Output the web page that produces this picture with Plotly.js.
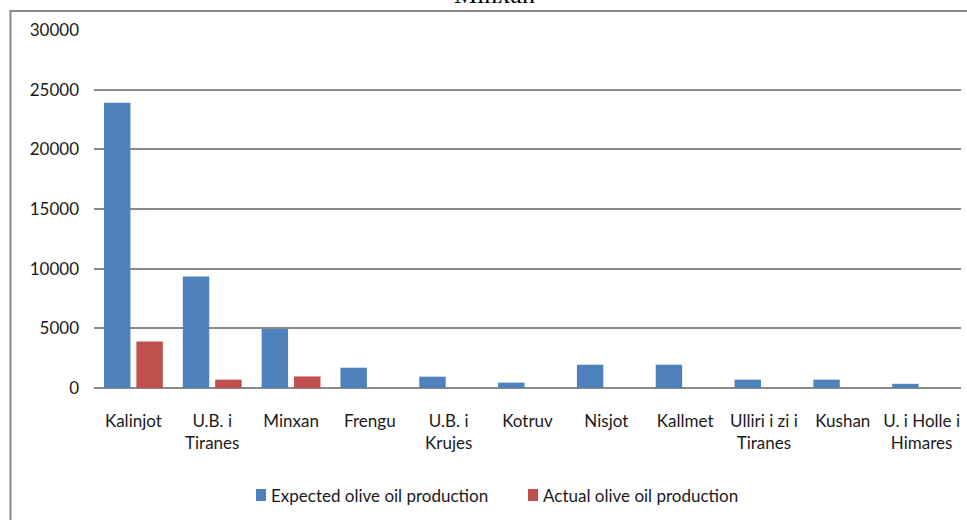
<!DOCTYPE html>
<html>
<head>
<meta charset="utf-8">
<script src="https://cdn.plot.ly/plotly-3.0.1.min.js"></script>
<style>
  html, body { margin: 0; padding: 0; background: #ffffff; }
  #chart { width: 967px; height: 520px; }
</style>
</head>
<body>
<div id="chart"></div>
<script>
const categories = [
  "Kalinjot", "U.B. i<br>Tiranes", "Minxan", "Frengu", "U.B. i<br>Krujes",
  "Kotruv", "Nisjot", "Kallmet", "Ulliri i zi i<br>Tiranes", "Kushan", "U. i Holle i<br>Himares"
];
const expectedProduction = [23900, 9350, 4950, 1700, 950, 450, 1950, 1950, 700, 700, 350];
const actualProduction   = [3900, 700, 970, 0, 0, 0, 0, 0, 0, 0, 0];
const yTickValues = [0, 5000, 10000, 15000, 20000, 25000, 30000];
const titleText = "Minxan";
const seriesNames = ["Expected olive oil production", "Actual olive oil production"];
const seriesColors = ["#4F81BD", "#C0504D"];

const W = 967, H = 520;
const M = { l: 94, r: 6, t: 30, b: 132 };
const plotW = W - M.l - M.r, plotH = H - M.t - M.b;
const px = x => (x - M.l) / plotW;          // pixel -> paper x
const py = y => (H - M.b - y) / plotH;      // pixel -> paper y

const baseFont = { family: "Lato, 'Open Sans', sans-serif", size: 17, color: "#1a1a1a" };
const gridGray = "#8a8a8a";

const traces = [
  { type: "bar", name: seriesNames[0], x: categories, y: expectedProduction,
    marker: { color: seriesColors[0] }, showlegend: false },
  { type: "bar", name: seriesNames[1], x: categories, y: actualProduction,
    marker: { color: seriesColors[1] }, showlegend: false }
];

// custom legend (square key + text), positioned like the reference
const legendKeysX = [256, 528];
const legendShapes = legendKeysX.map((x, i) => ({
  type: "rect", xref: "paper", yref: "paper", layer: "above",
  x0: px(x), x1: px(x + 10), y0: py(501), y1: py(489),
  line: { width: 0 }, fillcolor: seriesColors[i]
}));
const legendTexts = legendKeysX.map((x, i) => ({
  text: seriesNames[i], xref: "paper", yref: "paper",
  x: px(x + 13), y: py(495), xanchor: "left", yanchor: "middle",
  showarrow: false, font: baseFont
}));

const layout = {
  width: W, height: H,
  margin: M,
  paper_bgcolor: "#ffffff", plot_bgcolor: "#ffffff",
  font: baseFont,
  barmode: "group", bargap: 0.178, bargroupgap: 0.184,
  showlegend: false,
  xaxis: {
    type: "category", showgrid: false, showline: false, zeroline: false,
    ticks: "", tickfont: baseFont, ticklabelstandoff: 21, fixedrange: true
  },
  yaxis: {
    range: [0, 30000], tickvals: yTickValues, ticktext: yTickValues.map(String),
    showgrid: true, gridcolor: gridGray, gridwidth: 2,
    zeroline: true, zerolinecolor: gridGray, zerolinewidth: 2,
    showline: false, ticks: "", tickfont: baseFont, ticklabelstandoff: 14, fixedrange: true
  },
  annotations: [{
    text: titleText, xref: "paper", yref: "paper", x: px(494), y: py(-6),
    xanchor: "center", yanchor: "middle", showarrow: false,
    font: { family: "'Liberation Serif', 'Times New Roman', serif", size: 26, color: "#000000" }
  }].concat(legendTexts),
  shapes: [{
    type: "rect", xref: "paper", yref: "paper", layer: "below",
    x0: px(10.5), x1: px(1000), y0: py(560), y1: py(11),
    line: { color: gridGray, width: 2 }, fillcolor: "rgba(0,0,0,0)"
  }].concat(legendShapes)
};

Plotly.newPlot("chart", traces, layout, { displayModeBar: false, staticPlot: true });
</script>
</body>
</html>
